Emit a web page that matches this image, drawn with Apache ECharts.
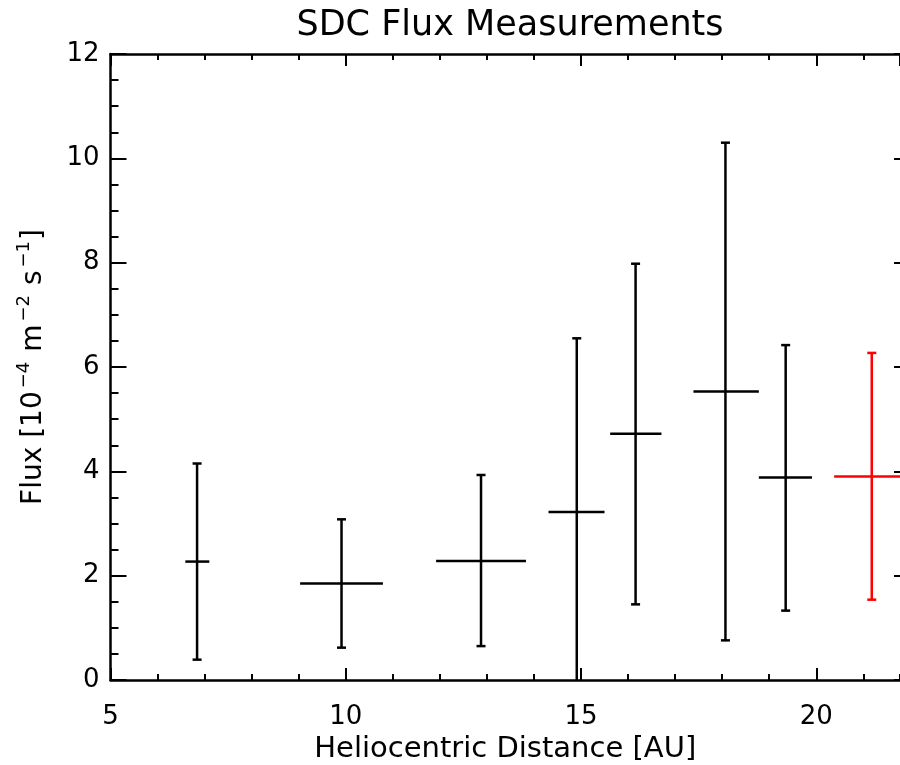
<!DOCTYPE html>
<html>
<head>
<meta charset="utf-8">
<script src="https://cdn.jsdelivr.net/npm/echarts@6/dist/echarts.min.js"></script>
<style>html,body{margin:0;padding:0;background:#fff;overflow:hidden}#c{width:900px;height:765px}</style>
</head>
<body>
<div id="c"></div>
<script>
// SDC flux measurements (black)
var dist     = [6.84, 9.91, 12.875, 14.91, 16.16, 18.07, 19.35];
var distLo   = [6.59, 9.03, 11.92, 14.31, 15.62, 17.39, 18.78];
var distHi   = [7.10, 10.79, 13.83, 15.50, 16.71, 18.78, 19.91];
var flux     = [2.27, 1.85, 2.28, 3.22, 4.72, 5.53, 3.88];
var fluxLo   = [0.39, 0.62, 0.65, -0.5, 1.45, 0.76, 1.33];
var fluxHi   = [4.15, 3.08, 3.93, 6.55, 7.98, 10.30, 6.42];
// highlighted measurement (red)
var redDist   = [21.18];
var redDistLo = [20.38];
var redDistHi = [21.98];
var redFlux   = [3.90];
var redFluxLo = [1.54];
var redFluxHi = [6.27];

var xTicks = [5, 10, 15, 20];
var yTicks = [0, 2, 4, 6, 8, 10, 12];
var xMin = 5, xMax = 21.78;
var yMin = 0, yMax = 12;

function rows(x, xl, xh, y, yl, yh) {
  return x.map(function (v, i) { return [v, xl[i], xh[i], y[i], yl[i], yh[i]]; });
}

function renderErr(color) {
  return function (params, api) {
    var x = api.value(0), xl = api.value(1), xh = api.value(2);
    var y = api.value(3), yl = api.value(4), yh = api.value(5);
    var pTop = api.coord([x, yh]);
    var pBot = api.coord([x, yl]);
    var pL = api.coord([xl, y]);
    var pR = api.coord([xh, y]);
    var cap = 4.5;
    var st = { stroke: color, lineWidth: 2.5, fill: null };
    return {
      type: 'group',
      children: [
        { type: 'line', shape: { x1: pTop[0], y1: pTop[1], x2: pBot[0], y2: pBot[1] }, style: st },
        { type: 'line', shape: { x1: pTop[0] - cap, y1: pTop[1], x2: pTop[0] + cap, y2: pTop[1] }, style: st },
        { type: 'line', shape: { x1: pBot[0] - cap, y1: pBot[1], x2: pBot[0] + cap, y2: pBot[1] }, style: st },
        { type: 'line', shape: { x1: pL[0], y1: pL[1], x2: pR[0], y2: pR[1] }, style: st }
      ]
    };
  };
}

var font = 'DejaVu Sans';
var axisLine = { show: true, onZero: false, lineStyle: { color: '#000', width: 2.5 } };
var noLine = { show: false, onZero: false };
var tickStyle = { color: '#000', width: 2 };
var gridRect = { left: 110.5, top: 54, width: 789.5, height: 626, containLabel: false, outerBoundsMode: 'none' };

var chart = echarts.init(document.getElementById('c'), null, { renderer: 'canvas', width: 900, height: 765 });
chart.setOption({
  backgroundColor: '#fff',
  animation: false,
  title: {
    text: 'SDC Flux Measurements',
    left: 505, top: 3, textAlign: 'center',
    textStyle: { fontFamily: font, fontSize: 35, fontWeight: 'normal', color: '#000' }
  },
  grid: [gridRect, Object.assign({}, gridRect)],
  xAxis: [{
    gridIndex: 0, type: 'value', min: xMin, max: xMax, interval: 5, position: 'bottom',
    axisLine: axisLine,
    axisTick: { show: true, inside: true, length: 12, lineStyle: tickStyle },
    splitLine: { show: false },
    axisLabel: {
      margin: 24, color: '#000', fontFamily: font, fontSize: 26,
      showMaxLabel: false,
      formatter: function (v) { return xTicks.indexOf(v) >= 0 ? String(v) : ''; }
    },
    name: 'Heliocentric Distance [AU]', nameLocation: 'middle', nameGap: 55,
    nameTextStyle: { color: '#000', fontFamily: font, fontSize: 29 }
  }, {
    gridIndex: 0, type: 'value', min: xMin, max: xMax, interval: 5, position: 'top',
    axisLine: axisLine,
    axisTick: { show: true, inside: true, length: 12, lineStyle: tickStyle },
    splitLine: { show: false }, axisLabel: { show: false }
  }, {
    gridIndex: 1, type: 'value', min: xMin, max: xMax, interval: 1, position: 'bottom',
    axisLine: noLine,
    axisTick: { show: true, inside: true, length: 6, lineStyle: tickStyle },
    splitLine: { show: false }, axisLabel: { show: false }
  }, {
    gridIndex: 1, type: 'value', min: xMin, max: xMax, interval: 1, position: 'top',
    axisLine: noLine,
    axisTick: { show: true, inside: true, length: 6, lineStyle: tickStyle },
    splitLine: { show: false }, axisLabel: { show: false }
  }],
  yAxis: [{
    gridIndex: 0, type: 'value', min: yMin, max: yMax, interval: 2, position: 'left',
    axisLine: axisLine,
    axisTick: { show: true, inside: true, length: 16, lineStyle: tickStyle },
    minorTick: { show: true, splitNumber: 4, length: 8, lineStyle: tickStyle },
    splitLine: { show: false },
    axisLabel: {
      margin: 11, color: '#000', fontFamily: font, fontSize: 26,
      formatter: function (v) { return yTicks.indexOf(v) >= 0 ? String(v) : ''; }
    },
    name: '{a|Flux [10}{s|−4}{a| m}{s|−2}{a| s}{s|−1}{a|]}',
    nameLocation: 'middle', nameRotate: 90, nameGap: 58,
    nameTextStyle: {
      color: '#000', fontFamily: font,
      rich: {
        a: { fontFamily: font, fontSize: 28, color: '#000' },
        s: { fontFamily: font, fontSize: 18, color: '#000', padding: [0, 1, 19, 3] }
      }
    }
  }, {
    gridIndex: 0, type: 'value', min: yMin, max: yMax, interval: 2, position: 'right',
    axisLine: noLine,
    axisTick: { show: true, inside: true, length: 6, lineStyle: tickStyle },
    splitLine: { show: false }, axisLabel: { show: false }
  }, {
    gridIndex: 1, type: 'value', min: yMin, max: yMax, show: false
  }],
  series: [{
    type: 'custom', name: 'SDC', xAxisIndex: 0, yAxisIndex: 0, clip: true,
    renderItem: renderErr('#000000'),
    encode: { x: [0, 1, 2], y: [3, 4, 5] },
    data: rows(dist, distLo, distHi, flux, fluxLo, fluxHi)
  }, {
    type: 'custom', name: 'SDC (red)', xAxisIndex: 0, yAxisIndex: 0, clip: true,
    renderItem: renderErr('#ff0000'),
    encode: { x: [0, 1, 2], y: [3, 4, 5] },
    data: rows(redDist, redDistLo, redDistHi, redFlux, redFluxLo, redFluxHi)
  }]
});
</script>
</body>
</html>
